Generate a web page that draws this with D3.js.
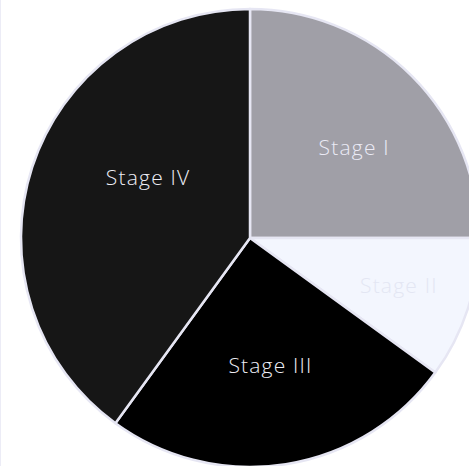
<!DOCTYPE html>
<html>
<head>
<meta charset="utf-8">
<script src="https://cdn.jsdelivr.net/npm/d3@7"></script>
<style>
  html, body { margin: 0; padding: 0; background: #ffffff; }
  svg { display: block; }
</style>
</head>
<body>
<svg id="chart" width="469" height="466"></svg>
<script>
// Share of cases by stage
const stages = ["Stage I", "Stage II", "Stage III", "Stage IV"];
const shares = [25, 10, 25, 40];
const sliceColors = ["#a09fa7", "#f3f6fe", "#000000", "#161616"];
const labelColors = ["#ebebf6", "#e3e6f3", "#eeeef6", "#eeeef6"];

const width = 469, height = 466;
const cx = 250, cy = 238, radius = 229;

const svg = d3.select("#chart");

// thin frame line on the left edge
svg.append("line")
  .attr("x1", 0.5).attr("x2", 0.5)
  .attr("y1", 0).attr("y2", height)
  .attr("stroke", "#ececf6").attr("stroke-width", 1);

const data = stages.map((s, i) => ({ stage: s, value: shares[i], i }));

const pie = d3.pie().value(d => d.value).sort(null);
const arcs = pie(data);
const arc = d3.arc().innerRadius(0).outerRadius(radius);

const g = svg.append("g").attr("transform", `translate(${cx},${cy})`);

g.selectAll("path.slice")
  .data(arcs)
  .join("path")
  .attr("class", "slice")
  .attr("d", arc)
  .attr("fill", d => sliceColors[d.data.i])
  .attr("stroke", "#e6e6f3")
  .attr("stroke-width", 2.5)
  .attr("stroke-linejoin", "round");

// labels sit near each wedge's area centroid, with a small per-label nudge
const labelNudge = [[7, 7], [6, 1], [-1, -8], [8, -25]];
function labelPos(d) {
  const theta = d.endAngle - d.startAngle;
  const mid = (d.startAngle + d.endAngle) / 2;
  const dist = 4 * radius * Math.sin(theta / 2) / (3 * theta);
  const [nx, ny] = labelNudge[d.data.i];
  return [dist * Math.sin(mid) + nx, -dist * Math.cos(mid) + ny];
}

g.selectAll("text.label")
  .data(arcs)
  .join("text")
  .attr("class", "label")
  .attr("transform", d => `translate(${labelPos(d)})`)
  .attr("text-anchor", "middle")
  .attr("dy", "0.35em")
  .attr("font-family", "'Open Sans', Lato, sans-serif")
  .attr("font-weight", 300)
  .attr("font-size", 21)
  .attr("letter-spacing", 1.2)
  .attr("fill", d => labelColors[d.data.i])
  .text(d => d.data.stage);
</script>
</body>
</html>
